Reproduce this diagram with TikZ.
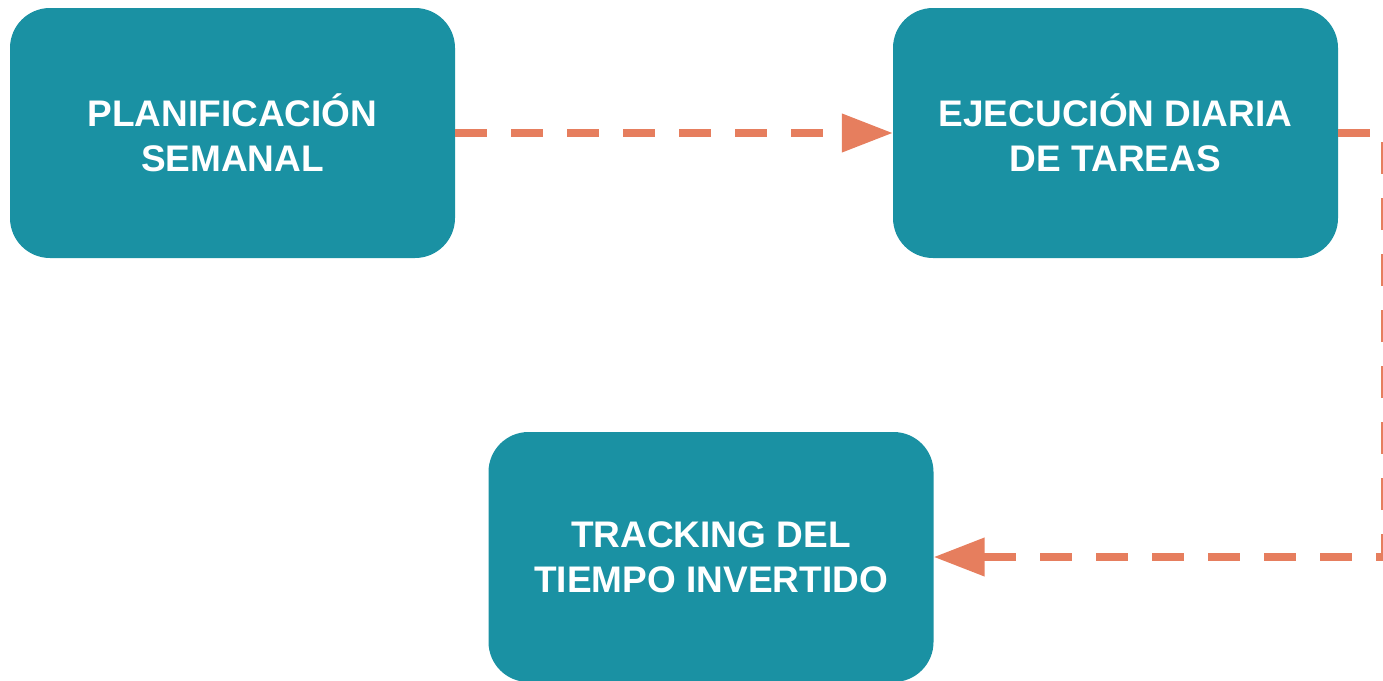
\documentclass[tikz,border=0pt]{standalone}
\usepackage{fontspec}
\setmainfont{Liberation Sans}
\usetikzlibrary{arrows.meta}
\definecolor{boxteal}{HTML}{1A91A3}
\definecolor{arrowor}{HTML}{E67E5E}
\begin{document}
\begin{tikzpicture}[x=1pt,y=-1pt,
  stepbox/.style={draw=none,fill=boxteal,rounded corners=40pt,minimum width=445pt,minimum height=250pt,
    text=white,align=center,font=\fontsize{37}{45}\selectfont\bfseries,inner sep=0pt},
  flow/.style={draw=arrowor,line width=7.5pt,dash pattern=on 32pt off 24pt,
    -{Triangle[length=51pt,width=37pt,fill=arrowor]}}]
\useasboundingbox (0,0) rectangle (1383,680);
\clip (0,0) rectangle (1383,680);
\node[stepbox] (a) at (232.5,133) {PLANIFICACIÓN\\SEMANAL};
\node[stepbox] (b) at (1115.5,133) {EJECUCIÓN DIARIA\\DE TAREAS};
\node[stepbox] (c) at (711,557) {TRACKING DEL\\TIEMPO INVERTIDO};
\coordinate (r1) at (1385,133);
\coordinate (r2) at (1385,557);
\draw[flow] (a.east) -- (b.west);
\draw[flow] (b.east) -- (r1) -- (r2) -- (c.east);
\end{tikzpicture}
\end{document}
